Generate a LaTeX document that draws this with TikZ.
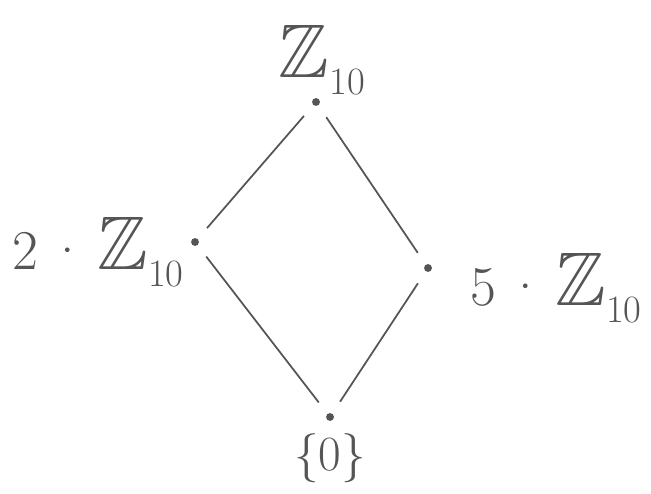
\documentclass[tikz,border=0pt]{standalone}
\usepackage{amsmath}
\usepackage{amssymb}
\usepackage{tikz}
\usepackage{xcolor}
\usetikzlibrary{positioning}
\definecolor{pencil}{RGB}{85,85,85}
\newcommand{\bigZ}{\scalebox{1.35}{$\mathbb{Z}$}}
\newcommand{\sub}[1]{\raisebox{-0.3em}{\fontsize{22}{24}\selectfont #1}}
\tikzset{
  pt/.style={circle, fill=pencil, inner sep=0pt, minimum size=4.5pt},
  grp/.style={text=pencil, font=\fontsize{32}{36}\selectfont, inner sep=0pt},
  incl/.style={draw=pencil, line width=1pt, shorten <=8pt, shorten >=8pt},
}

\begin{document}
\begin{tikzpicture}[x=0.02cm, y=-0.02cm]
  \useasboundingbox (0,0) rectangle (651,493);
  \node[pt] (top)   at (316,102) {};
  \node[pt] (left)  at (195,242) {};
  \node[pt] (right) at (428,268) {};
  \node[pt] (bot)   at (330,417) {};

  \node[grp] (ztop)   at (322,60)  {\bigZ\sub{10}};
  \node[grp] (zleft)  at (98,252)  {2\,·\,\bigZ\sub{10}};
  \node[grp] (zright) at (556,288) {5\,·\,\bigZ\sub{10}};
  \node[grp, font=\fontsize{28}{32}\selectfont] (zero) at (330,458) {\{0\}};

  \draw[incl] (top)  -- (left);
  \draw[incl] (top)  -- (right);
  \draw[incl] (left) -- (bot);
  \draw[incl] (right) -- (bot);
\end{tikzpicture}
\end{document}
